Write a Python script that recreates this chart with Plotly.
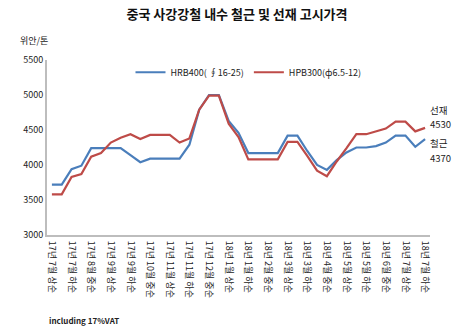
import plotly.graph_objects as go

# 10-day periods (상순/중순/하순), Jul 2017 - Jul 2018
periods = [
    "17년 7월 상순", "17년 7월 중순", "17년 7월 하순",
    "17년 8월 상순", "17년 8월 중순", "17년 8월 하순",
    "17년 9월 상순", "17년 9월 중순", "17년 9월 하순",
    "17년 10월 상순", "17년 10월 중순", "17년 10월 하순",
    "17년 11월 상순", "17년 11월 중순", "17년 11월 하순",
    "17년 12월 상순", "17년 12월 중순", "17년 12월 하순",
    "18년 1월 상순", "18년 1월 중순", "18년 1월 하순",
    "18년 2월 상순", "18년 2월 중순", "18년 2월 하순",
    "18년 3월 상순", "18년 3월 중순", "18년 3월 하순",
    "18년 4월 상순", "18년 4월 중순", "18년 4월 하순",
    "18년 5월 상순", "18년 5월 중순", "18년 5월 하순",
    "18년 6월 상순", "18년 6월 중순", "18년 6월 하순",
    "18년 7월 상순", "18년 7월 중순", "18년 7월 하순",
]

# Rebar HRB400 (yuan/ton)
hrb400 = [3720, 3720, 3940, 3990, 4240, 4240, 4240, 4240, 4140, 4040,
          4090, 4090, 4090, 4090, 4290, 4790, 5000, 5000, 4630, 4460,
          4170, 4170, 4170, 4170, 4420, 4420, 4200, 4000, 3930, 4070,
          4180, 4250, 4250, 4270, 4320, 4420, 4420, 4260, 4370]

# Wire rod HPB300 (yuan/ton)
hpb300 = [3580, 3580, 3830, 3870, 4120, 4170, 4320, 4390, 4440, 4370,
          4430, 4430, 4430, 4320, 4380, 4790, 4990, 4990, 4590, 4400,
          4080, 4080, 4080, 4080, 4330, 4330, 4130, 3920, 3840, 4050,
          4240, 4440, 4440, 4480, 4520, 4620, 4620, 4480, 4530]

y_ticks = [3000, 3500, 4000, 4500, 5000, 5500]

KR = "Noto Sans CJK KR"
idx = list(range(len(periods)))

fig = go.Figure()
fig.add_trace(go.Scatter(
    x=idx, y=hrb400, mode="lines", name="HRB400( ∮16-25)",
    line=dict(color="#4a7ebb", width=2.2),
))
fig.add_trace(go.Scatter(
    x=idx, y=hpb300, mode="lines", name="HPB300(ф6.5-12)",
    line=dict(color="#be4b48", width=2.2),
))

fig.update_layout(
    width=474, height=326,
    margin=dict(l=47, r=44, t=60, b=91),
    paper_bgcolor="white", plot_bgcolor="white",
    font=dict(family=KR, size=9, color="#222222"),
    title=dict(
        text="<b>중국 사강강철 내수 철근 및 선재 고시가격</b>",
        x=0.5, xanchor="center", y=0.955, yanchor="middle",
        font=dict(family=KR, size=13, color="#111111"),
    ),
    legend=dict(
        orientation="h", x=0.218, y=0.93, xanchor="left", yanchor="middle",
        font=dict(family=KR, size=9), bgcolor="rgba(0,0,0,0)",
        itemwidth=30, tracegroupgap=0,
    ),
    showlegend=True,
)

fig.update_xaxes(
    range=[-0.5, len(periods) - 0.5],
    tickmode="array",
    tickvals=idx[::2],
    ticktext=periods[::2],
    tickangle=90,
    tickfont=dict(family=KR, size=9, color="#222222"),
    ticklabelstandoff=2,
    showline=True, linecolor="#bdbdbd", linewidth=2,
    showgrid=False, zeroline=False, ticks="",
)
fig.update_yaxes(
    range=[3000, 5500],
    tickmode="array", tickvals=y_ticks,
    tickfont=dict(family=KR, size=9, color="#222222"),
    showline=True, linecolor="#bdbdbd", linewidth=2,
    showgrid=False, zeroline=False, ticks="",
)

# Unit label and footnote
fig.add_annotation(text="위안/톤", xref="paper", yref="paper",
                   x=-0.075, y=1.06, xanchor="left", yanchor="bottom",
                   showarrow=False, font=dict(family=KR, size=9))
fig.add_annotation(text="<b>including 17%VAT</b>", xref="paper", yref="paper",
                   x=0.0, y=-0.49, xanchor="left", yanchor="middle",
                   showarrow=False, font=dict(family=KR, size=8))

# Latest values at the right end of each series
last = len(periods) - 1
end_labels = [
    ("선재", hpb300[last], 18, 3),
    (str(hpb300[last]), hpb300[last], 4, 3),
    ("철근", hrb400[last], -4, 3),
    (str(hrb400[last]), hrb400[last], -19, 3),
]
for text, val, dy, dx in end_labels:
    fig.add_annotation(text=text, x=last, y=val, xref="x", yref="y",
                       xshift=dx, yshift=dy, xanchor="left", yanchor="middle",
                       showarrow=False, font=dict(family=KR, size=9.5))

fig.write_html("out.html")
